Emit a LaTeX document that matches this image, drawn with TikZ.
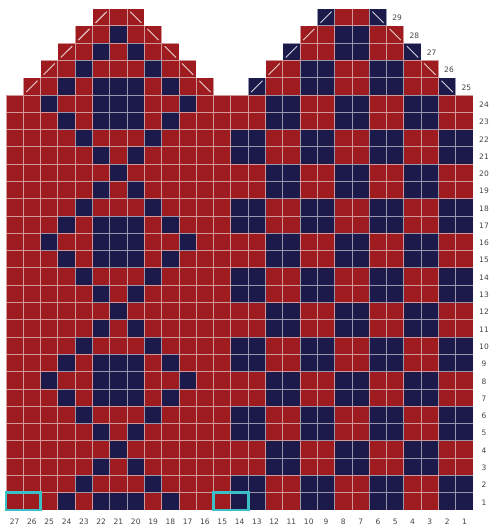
\documentclass[tikz,border=0pt]{standalone}
\usepackage{fontspec}
\setmainfont{DejaVu Sans}
\definecolor{kred}{HTML}{9E1C20}
\definecolor{knavy}{HTML}{1B1A4A}
\definecolor{kcyan}{HTML}{3CC0C8}
\definecolor{klabel}{HTML}{444444}
\begin{document}
\begin{tikzpicture}[x=1pt,y=-1pt,
  gridline/.style={draw=white,draw opacity=0.55,line width=0.9pt},
  decmark/.style={draw=white,draw opacity=0.8,line width=0.9pt},
  hilite/.style={draw=kcyan,line width=2.6pt},
  numlabel/.style={font=\fontsize{7.5}{8}\selectfont,text=klabel,inner sep=0pt}]
\useasboundingbox (0,0) rectangle (489,526);
\def\cw{17.3}\def\ch{17.29}
% colour decision: sets \kcol
\newcommand\kdecide[2]{%
  \ifnum#1<15
    \pgfmathtruncatemacro\knv{mod(ceil(#1/2)+mod(floor((#2-1)/2),2),2)}%
  \else
    \pgfmathtruncatemacro\kK{mod(#2-1,8)}%
    \pgfmathtruncatemacro\kA{abs(#1-21)}%
    \pgfmathtruncatemacro\knv{((\kK==0||\kK==6)&&(\kA<=1||\kA==3))||((\kK==1||\kK==5)&&\kA==2)||((\kK==2||\kK==4)&&\kA==1)||(\kK==3&&\kA==0)||(\kK==7&&(\kA<=1||\kA==4))}%
    \ifnum#2=29 \def\knv{0}\fi
  \fi
  \ifnum\knv=1 \def\kcol{knavy}\else\def\kcol{kred}\fi}
% main block fills
\foreach \r in {1,...,24}{
  \foreach \c in {1,...,27}{
    \kdecide{\c}{\r}
    \fill[\kcol] ({6+(27-\c)*\cw},{510-\r*\ch}) rectangle ++(\cw,\ch);
  }
}
% top shapes fills
\foreach \r/\lo/\hi/\rlo/\rhi in {25/16/26/2/13,26/17/25/3/12,27/18/24/4/11,28/19/23/5/10,29/20/22/6/9}{
  \foreach \c in {\lo,...,\hi}{
    \kdecide{\c}{\r}
    \fill[\kcol] ({6+(27-\c)*\cw},{510-\r*\ch}) rectangle ++(\cw,\ch);
  }
  \foreach \c in {\rlo,...,\rhi}{
    \kdecide{\c}{\r}
    \fill[\kcol] ({6+(27-\c)*\cw},{510-\r*\ch}) rectangle ++(\cw,\ch);
  }
}
% grid lines, one path
\draw[gridline]
  \foreach \r in {1,...,24}{\foreach \c in {1,...,27}{({6+(27-\c)*\cw},{510-\r*\ch}) rectangle ++(\cw,\ch)}}
  \foreach \r/\lo/\hi/\rlo/\rhi in {25/16/26/2/13,26/17/25/3/12,27/18/24/4/11,28/19/23/5/10,29/20/22/6/9}{
    \foreach \c in {\lo,...,\hi}{({6+(27-\c)*\cw},{510-\r*\ch}) rectangle ++(\cw,\ch)}
    \foreach \c in {\rlo,...,\rhi}{({6+(27-\c)*\cw},{510-\r*\ch}) rectangle ++(\cw,\ch)}};
% decrease marks
\foreach \r/\lo/\hi/\rlo/\rhi in {25/16/26/2/13,26/17/25/3/12,27/18/24/4/11,28/19/23/5/10,29/20/22/6/9}{
  \draw[decmark] ({6+(27-\hi)*\cw+3},{510-(\r-1)*\ch-3}) -- ++({\cw-6},{-(\ch-6)});
  \draw[decmark] ({6+(27-\lo)*\cw+3},{510-\r*\ch+3}) -- ++({\cw-6},{\ch-6});
  \draw[decmark] ({6+(27-\rhi)*\cw+3},{510-(\r-1)*\ch-3}) -- ++({\cw-6},{-(\ch-6)});
  \draw[decmark] ({6+(27-\rlo)*\cw+3},{510-\r*\ch+3}) -- ++({\cw-6},{\ch-6});
  \node[numlabel] (r\r) at ({6+(28-\rlo)*\cw+10.5},{510-(\r-0.5)*\ch+1}) {\r};
}
% highlight boxes
\draw[hilite] (6,{510-\ch}) rectangle ({6+2*\cw},510);
\draw[hilite] ({6+12*\cw},{510-\ch}) rectangle ({6+14*\cw},510);
% row labels
\foreach \r in {1,...,24}{
  \node[numlabel] (r\r) at (484,{510-(\r-0.5)*\ch+1}) {\r};
}
% column labels
\foreach \c in {1,...,27}{
  \node[numlabel] (c\c) at ({6+(27.5-\c)*\cw},521.5) {\c};
}
\end{tikzpicture}
\end{document}
